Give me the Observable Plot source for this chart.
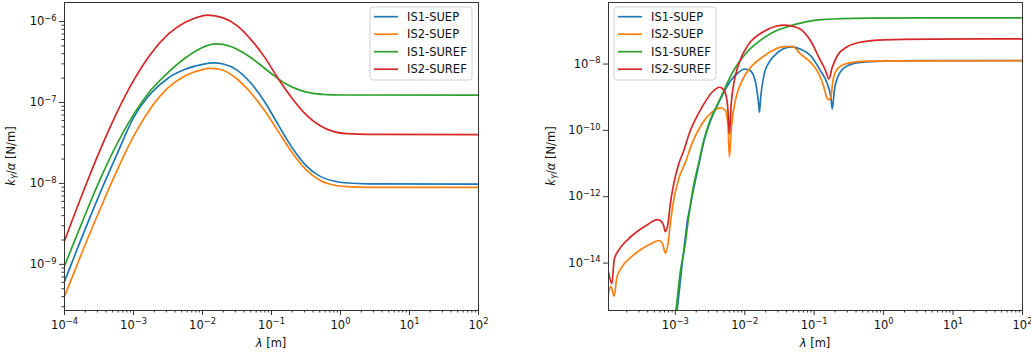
<!DOCTYPE html>
<html>
<head>
<meta charset="utf-8">
<script src="https://cdn.jsdelivr.net/npm/d3@7"></script>
<script src="https://cdn.jsdelivr.net/npm/@observablehq/plot@0.6"></script>
<style>
  html, body { margin: 0; padding: 0; background: #fff; }
  #wrap { position: relative; width: 1031px; height: 356px; overflow: hidden; }
  #left, #right { position: absolute; top: 0; }
  #left { left: 0; }
  #right { left: 540px; }
  svg { font-family: "DejaVu Sans", sans-serif; }
</style>
</head>
<body>
<div id="wrap"><div id="left"></div><div id="right"></div></div>
<script>
// ---- Data: pairs of [log10(lambda [m]), log10(k_Y/alpha [N/m])] ----
const seriesNames = ["IS1-SUEP", "IS2-SUEP", "IS1-SUREF", "IS2-SUREF"];
const seriesColors = ["#1f77b4", "#ff7f0e", "#2ca02c", "#d62728"];

// Left panel
const left_IS1_SUEP = [[-4.0,-9.21],[-3.75,-8.67],[-3.5,-8.15],[-3.25,-7.66],[-3.0,-7.19],[-2.75,-6.89],[-2.5,-6.70],[-2.25,-6.59],[-2.0,-6.53],[-1.85,-6.512],[-1.7,-6.525],[-1.5,-6.60],[-1.3,-6.76],[-1.1,-6.99],[-0.9,-7.28],[-0.7,-7.56],[-0.5,-7.78],[-0.3,-7.91],[-0.1,-7.97],[0.1,-7.995],[0.4,-8.005],[2.0,-8.008]];
const left_IS2_SUEP = [[-4.0,-9.397],[-3.75,-8.86],[-3.5,-8.35],[-3.25,-7.86],[-3.0,-7.42],[-2.75,-7.07],[-2.5,-6.82],[-2.25,-6.67],[-2.0,-6.595],[-1.9,-6.58],[-1.75,-6.59],[-1.5,-6.71],[-1.3,-6.88],[-1.1,-7.10],[-0.9,-7.36],[-0.7,-7.62],[-0.5,-7.83],[-0.3,-7.96],[-0.1,-8.02],[0.1,-8.04],[0.4,-8.048],[2.0,-8.05]];
const left_IS1_SUREF = [[-4.0,-9.02],[-3.75,-8.49],[-3.5,-7.98],[-3.25,-7.53],[-3.0,-7.15],[-2.75,-6.85],[-2.5,-6.63],[-2.25,-6.45],[-2.0,-6.32],[-1.81,-6.277],[-1.6,-6.305],[-1.4,-6.39],[-1.2,-6.51],[-1.0,-6.645],[-0.8,-6.765],[-0.6,-6.845],[-0.4,-6.888],[-0.2,-6.903],[0.0,-6.908],[2.0,-6.909]];
const left_IS2_SUREF = [[-4.0,-8.71],[-3.75,-8.15],[-3.5,-7.62],[-3.25,-7.14],[-3.0,-6.73],[-2.75,-6.40],[-2.5,-6.16],[-2.25,-6.01],[-2.0,-5.93],[-1.93,-5.921],[-1.7,-5.955],[-1.5,-6.05],[-1.3,-6.22],[-1.1,-6.44],[-0.9,-6.71],[-0.7,-6.95],[-0.5,-7.15],[-0.3,-7.285],[-0.1,-7.36],[0.1,-7.385],[0.4,-7.395],[2.0,-7.397]];

// Right panel
const right_IS1_SUEP = [[-3.01,-15.8],[-2.976,-15.42],[-2.9,-14.0],[-2.84,-12.95],[-2.825,-12.7],[-2.815,-12.6],[-2.74,-11.8],[-2.664,-11.05],[-2.59,-10.35],[-2.5,-9.75],[-2.4,-9.27],[-2.3,-8.85],[-2.2,-8.5],[-2.1,-8.27],[-2.0,-8.15],[-1.92,-8.2],[-1.85,-8.5],[-1.8,-9.2],[-1.788,-9.45],[-1.77,-9.0],[-1.72,-8.3],[-1.65,-7.95],[-1.55,-7.7],[-1.45,-7.55],[-1.32,-7.48],[-1.2,-7.55],[-1.05,-7.75],[-0.91,-8.2],[-0.81,-8.6],[-0.76,-9.0],[-0.739,-9.35],[-0.71,-8.8],[-0.64,-8.3],[-0.52,-8.05],[-0.33,-7.95],[0.0,-7.91],[0.5,-7.9],[2.0,-7.9]];
const right_IS2_SUEP = [[-3.962,-14.92],[-3.928,-14.7],[-3.88,-15.0],[-3.841,-14.42],[-3.769,-14.12],[-3.625,-13.8],[-3.481,-13.57],[-3.337,-13.4],[-3.24,-13.32],[-3.183,-13.42],[-3.144,-13.7],[-3.106,-13.42],[-3.072,-12.82],[-3.024,-12.12],[-2.952,-11.47],[-2.856,-10.97],[-2.76,-10.4],[-2.615,-9.8],[-2.471,-9.45],[-2.35,-9.32],[-2.279,-9.4],[-2.24,-9.9],[-2.221,-10.8],[-2.192,-9.9],[-2.135,-9.1],[-2.038,-8.5],[-1.894,-8.05],[-1.75,-7.8],[-1.606,-7.6],[-1.462,-7.48],[-1.317,-7.47],[-1.196,-7.7],[-1.052,-7.95],[-0.932,-8.3],[-0.86,-8.7],[-0.821,-9.0],[-0.79,-9.08],[-0.76,-9.0],[-0.73,-8.5],[-0.667,-8.15],[-0.523,-7.98],[-0.234,-7.91],[2.0,-7.9]];
const right_IS1_SUREF = [[-3.02,-15.8],[-2.99,-15.4],[-2.93,-14.3],[-2.856,-13.4],[-2.81,-12.65],[-2.74,-11.7],[-2.664,-11.0],[-2.59,-10.3],[-2.5,-9.7],[-2.4,-9.25],[-2.3,-8.8],[-2.2,-8.35],[-2.1,-8.0],[-2.0,-7.72],[-1.9,-7.5],[-1.75,-7.25],[-1.6,-7.05],[-1.45,-6.92],[-1.3,-6.82],[-1.1,-6.72],[-0.9,-6.66],[-0.6,-6.63],[-0.2,-6.615],[0.5,-6.61],[2.0,-6.61]];
const right_IS2_SUREF = [[-3.962,-14.27],[-3.913,-14.62],[-3.88,-13.9],[-3.817,-13.62],[-3.673,-13.27],[-3.529,-13.02],[-3.385,-12.82],[-3.264,-12.69],[-3.216,-12.72],[-3.168,-12.87],[-3.144,-13.05],[-3.106,-12.82],[-3.072,-12.22],[-3.024,-11.62],[-2.952,-11.02],[-2.88,-10.62],[-2.8,-10.1],[-2.615,-9.3],[-2.471,-8.85],[-2.36,-8.7],[-2.29,-8.82],[-2.245,-9.3],[-2.221,-10.1],[-2.195,-9.2],[-2.15,-8.5],[-2.087,-8.0],[-1.942,-7.4],[-1.75,-7.05],[-1.55,-6.86],[-1.43,-6.83],[-1.25,-6.9],[-1.196,-6.95],[-1.052,-7.3],[-0.932,-7.8],[-0.836,-8.2],[-0.788,-8.45],[-0.74,-8.1],[-0.667,-7.75],[-0.523,-7.48],[-0.33,-7.34],[0.006,-7.27],[0.727,-7.25],[2.0,-7.24]];

// Axis domains (log10) and tick exponents
const leftXDomainExp = [-4, 2];
const leftYDomainExp = [-9.57, -5.765];
const rightXDomainExp = [-3.962, 2];
const rightYDomainExp = [-15.43, -6.145];
const leftXTickExp = [-4, -3, -2, -1, 0, 1, 2];
const leftYTickExp = [-9, -8, -7, -6];
const rightXTickExp = [-3, -2, -1, 0, 1, 2];
const rightYTickExp = [-14, -12, -10, -8];

// ---- helpers ----
const fmt = d => "10^" + Math.round(Math.log10(d));
const rows = (arr) => arr.map(([a, b]) => ({lam: 10 ** a, k: 10 ** b}));
function minorTicks(domExp) {
  const out = [];
  const lo = 10 ** domExp[0], hi = 10 ** domExp[1];
  for (let e = Math.floor(domExp[0]); e <= Math.ceil(domExp[1]); e++)
    for (let m = 2; m <= 9; m++) { const v = m * 10 ** e; if (v >= lo && v <= hi) out.push(v); }
  return out;
}
const FS = "11.5px";
const AX = "#333";

function panel(opts) {
  const {width, marginLeft, marginRight, xExp, yExp, xTicks, yTicks, yMinor, data} = opts;
  const xd = xExp.map(e => 10 ** e), yd = yExp.map(e => 10 ** e);
  const inX = v => v >= xd[0] * 0.999 && v <= xd[1] * 1.001;
  const inY = v => v >= yd[0] * 0.999 && v <= yd[1] * 1.001;
  const marks = [];
  data.forEach((arr, i) => marks.push(Plot.line(rows(arr), {x: "lam", y: "k", stroke: seriesColors[i], strokeWidth: 1.7, curve: "monotone-x", clip: true})));
  marks.push(
    Plot.frame({stroke: AX, strokeWidth: 1}),
    Plot.axisX({ticks: xTicks.map(e => 10 ** e).filter(inX), tickSize: 5, tickPadding: 5, tickFormat: fmt, label: null, stroke: AX, fill: "#111"}),
    Plot.axisX({ticks: minorTicks(xExp), tickSize: 2.5, tickFormat: () => "", label: null, stroke: AX}),
    Plot.axisY({ticks: yTicks.map(e => 10 ** e).filter(inY), tickSize: 5, tickPadding: 3, tickFormat: fmt, label: null, stroke: AX, fill: "#111"})
  );
  if (yMinor) marks.push(Plot.axisY({ticks: minorTicks(yExp), tickSize: 2.5, tickFormat: () => "", label: null, stroke: AX}));
  return Plot.plot({
    width, height: 356, marginLeft, marginRight, marginTop: 2, marginBottom: 46,
    style: {fontFamily: "DejaVu Sans, sans-serif", fontSize: FS, background: "#fff", color: "#111"},
    x: {type: "log", domain: xd},
    y: {type: "log", domain: yd},
    marks
  });
}

function decorate(svg, o) {
  const s = d3.select(svg);
  // tick labels: "10" with raised exponent
  s.selectAll("text").each(function () {
    const t = d3.select(this);
    const txt = t.text();
    if (!txt.startsWith("10^")) return;
    const ex = txt.slice(3).replace("-", "\u2212");
    t.text("");
    t.append("tspan").text("10");
    t.append("tspan").attr("font-size", "8.3px").attr("dy", "-4.5").text(ex);
  });
  // y label
  const yl = s.append("text").attr("transform", `translate(${o.ylx},${o.yly}) rotate(-90)`)
    .attr("text-anchor", "middle").attr("font-size", FS).attr("fill", "#111");
  yl.append("tspan").attr("font-style", "italic").text("k");
  yl.append("tspan").attr("font-style", "italic").attr("font-size", "8px").attr("dy", "2.5").text("Y");
  yl.append("tspan").attr("dy", "-2.5").text("/");
  yl.append("tspan").attr("font-style", "italic").text("\u03B1");
  yl.append("tspan").text(" [N/m]");
  // x label
  const xl = s.append("text").attr("x", o.xlx).attr("y", 347).attr("text-anchor", "middle").attr("font-size", FS).attr("fill", "#111");
  xl.append("tspan").attr("font-style", "italic").text("\u03BB");
  xl.append("tspan").text(" [m]");
  // legend
  const g = s.append("g").attr("text-anchor", "start");
  g.append("rect").attr("x", o.lgx).attr("y", 7).attr("width", 102).attr("height", 73).attr("rx", 3)
    .attr("fill", "#fff").attr("fill-opacity", 0.85).attr("stroke", "#d0d0d0");
  seriesNames.forEach((n, i) => {
    const cy = 16.7 + i * 17.5;
    g.append("line").attr("x1", o.lgx + 4).attr("x2", o.lgx + 28).attr("y1", cy).attr("y2", cy)
      .attr("stroke", seriesColors[i]).attr("stroke-width", 1.7);
    g.append("text").attr("x", o.lgx + 37).attr("y", cy).attr("dy", "0.36em").attr("text-anchor", "start")
      .attr("font-size", FS).attr("fill", "#111").text(n);
  });
}

const leftSvg = panel({width: 540, marginLeft: 64, marginRight: 62, xExp: leftXDomainExp, yExp: leftYDomainExp,
  xTicks: leftXTickExp, yTicks: leftYTickExp, yMinor: true,
  data: [left_IS1_SUEP, left_IS2_SUEP, left_IS1_SUREF, left_IS2_SUREF]});
document.getElementById("left").appendChild(leftSvg);
decorate(leftSvg, {ylx: 15, yly: 156, xlx: 271, lgx: 370});

const rightSvg = panel({width: 491, marginLeft: 68, marginRight: 9, xExp: rightXDomainExp, yExp: rightYDomainExp,
  xTicks: rightXTickExp, yTicks: rightYTickExp, yMinor: false,
  data: [right_IS1_SUEP, right_IS2_SUEP, right_IS1_SUREF, right_IS2_SUREF]});
document.getElementById("right").appendChild(rightSvg);
decorate(rightSvg, {ylx: 15, yly: 156, xlx: 275, lgx: 74});
</script>
</body>
</html>
